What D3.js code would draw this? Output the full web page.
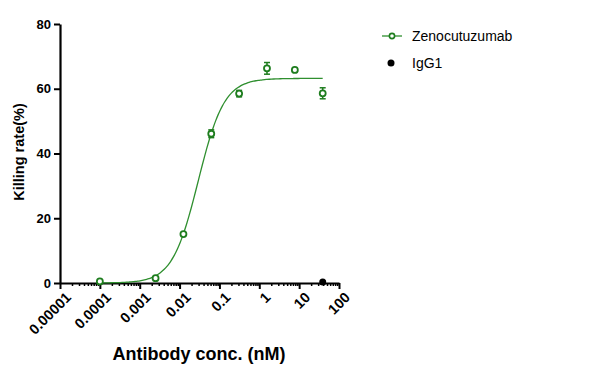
<!DOCTYPE html>
<html>
<head>
<meta charset="utf-8">
<script src="https://cdn.jsdelivr.net/npm/d3@7"></script>
<style>
  body { margin: 0; background: #fff; }
  svg { font-family: "Liberation Sans", Arial, sans-serif; }
  .axis text { font-weight: bold; font-size: 13px; fill: #000; }
  .xaxis text { font-size: 14.5px; }
</style>
</head>
<body>
<svg class="svg_kill" width="603" height="373"></svg>
<script>
// Zenocutuzumab killing data (nM, %)
var zenoConc  = [0.0001, 0.0025, 0.0125, 0.0624, 0.312, 1.56, 7.8, 39];
var zenoKill  = [0.5, 1.5, 15.1, 46.1, 58.5, 66.3, 65.8, 58.6];
var zenoErr   = [0.3, 0.4, 0.5, 1.2, 1.0, 1.8, 0.5, 1.7];
// IgG1 control
var iggConc = [39];
var iggKill = [0.3];
// 4PL fit shown as the curve
var fitBottom = 0, fitTop = 63.2, fitEC50 = 0.0295, fitHill = 1.34;
var xTicks = [0.00001, 0.0001, 0.001, 0.01, 0.1, 1, 10, 100];
var xTickLabels = ["0.00001", "0.0001", "0.001", "0.01", "0.1", "1", "10", "100"];
var yTicks = [0, 20, 40, 60, 80];

var svg = d3.select(".svg_kill"),
    margin = {top: 24, left: 60},
    width = 279,
    height = 259,
    g = svg.append("g").attr("transform", "translate(" + margin.left + "," + margin.top + ")");

var green = "#1e7d1e";

var x = d3.scaleLog().domain([0.00001, 100]).range([0, width]),
    y = d3.scaleLinear().domain([0, 80]).range([height, 0]);

// minor ticks on log axis
var minor = [];
for (var e = -5; e < 2; e++) {
  for (var m = 2; m < 10; m++) minor.push(m * Math.pow(10, e));
}
g.append("g")
    .attr("transform", "translate(0," + height + ")")
    .call(d3.axisBottom(x).tickValues(minor).tickSize(3).tickFormat(""))
    .call(function(s) { s.select(".domain").remove(); s.selectAll("line").attr("stroke-width", 1.5); });

// x axis
var xa = g.append("g")
    .attr("class", "axis xaxis")
    .attr("transform", "translate(0," + height + ")")
    .call(d3.axisBottom(x).tickValues(xTicks).tickSize(6).tickSizeOuter(0)
      .tickFormat(function(d, i) { return xTickLabels[i]; }));
xa.select(".domain").attr("stroke-width", 2.2);
xa.selectAll("line").attr("stroke-width", 2);
xa.selectAll("text")
    .attr("text-anchor", "end")
    .attr("dx", "3")
    .attr("dy", "0.3em")
    .attr("transform", "translate(0,8) rotate(-45)");

// y axis
var ya = g.append("g")
    .attr("class", "axis")
    .call(d3.axisLeft(y).tickValues(yTicks).tickSize(6).tickSizeOuter(0));
ya.select(".domain").attr("stroke-width", 2.2);
ya.selectAll("line").attr("stroke-width", 2);
ya.selectAll("text").attr("x", -9);

// axis titles
svg.append("text")
    .attr("x", 199).attr("y", 360)
    .attr("text-anchor", "middle")
    .attr("font-weight", "bold").attr("font-size", "18px")
    .text("Antibody conc. (nM)");
svg.append("text")
    .attr("transform", "translate(24,152) rotate(-90)")
    .attr("text-anchor", "middle")
    .attr("font-weight", "bold").attr("font-size", "14.5px")
    .text("Killing rate(%)");

// fitted curve
var curveX = d3.range(0, 101).map(function(i) {
  var lo = Math.log10(zenoConc[0]), hi = Math.log10(zenoConc[zenoConc.length - 1]);
  return Math.pow(10, lo + (hi - lo) * i / 100);
});
var line = d3.line()
    .x(function(d) { return x(d); })
    .y(function(d) { return y(fitBottom + (fitTop - fitBottom) / (1 + Math.pow(fitEC50 / d, fitHill))); })
    .curve(d3.curveBasis);
g.append("path")
    .datum(curveX)
    .attr("fill", "none")
    .attr("stroke", "#2f8f2f")
    .attr("stroke-width", 1.3)
    .attr("d", line);

// error bars
var zeno = zenoConc.map(function(c, i) { return {c: c, v: zenoKill[i], e: zenoErr[i]}; });
var eb = g.selectAll(".err").data(zeno).enter().append("g").attr("class", "err")
    .attr("stroke", green).attr("stroke-width", 1.5);
eb.append("line")
    .attr("x1", function(d) { return x(d.c); }).attr("x2", function(d) { return x(d.c); })
    .attr("y1", function(d) { return y(d.v + d.e); }).attr("y2", function(d) { return y(d.v - d.e); });
eb.filter(function(d) { return d.e > 0.6; }).append("line")
    .attr("x1", function(d) { return x(d.c) - 3; }).attr("x2", function(d) { return x(d.c) + 3; })
    .attr("y1", function(d) { return y(d.v + d.e); }).attr("y2", function(d) { return y(d.v + d.e); });
eb.filter(function(d) { return d.e > 0.6; }).append("line")
    .attr("x1", function(d) { return x(d.c) - 3; }).attr("x2", function(d) { return x(d.c) + 3; })
    .attr("y1", function(d) { return y(d.v - d.e); }).attr("y2", function(d) { return y(d.v - d.e); });

// points
g.selectAll(".pt").data(zeno).enter().append("circle")
    .attr("class", "pt")
    .attr("cx", function(d) { return x(d.c); })
    .attr("cy", function(d) { return y(d.v); })
    .attr("r", 3)
    .attr("fill", "#fff")
    .attr("stroke", green)
    .attr("stroke-width", 1.8);

g.selectAll(".igg").data(iggConc).enter().append("circle")
    .attr("class", "igg")
    .attr("cx", function(d) { return x(d); })
    .attr("cy", function(d, i) { return y(iggKill[i]); })
    .attr("r", 3.5)
    .attr("fill", "#000");

// legend
var lg = svg.append("g").attr("transform", "translate(382,36)");
lg.append("line").attr("x1", 0).attr("x2", 20).attr("y1", 0).attr("y2", 0)
    .attr("stroke", "#2f8f2f").attr("stroke-width", 1.3);
lg.append("circle").attr("cx", 10).attr("cy", 0).attr("r", 2.6)
    .attr("fill", "#fff").attr("stroke", green).attr("stroke-width", 1.6);
lg.append("text").attr("x", 30).attr("y", 5).attr("font-size", "14px").text("Zenocutuzumab");
lg.append("circle").attr("cx", 9).attr("cy", 27).attr("r", 3.5).attr("fill", "#000");
lg.append("text").attr("x", 30).attr("y", 32).attr("font-size", "14px").text("IgG1");
</script>
</body>
</html>
